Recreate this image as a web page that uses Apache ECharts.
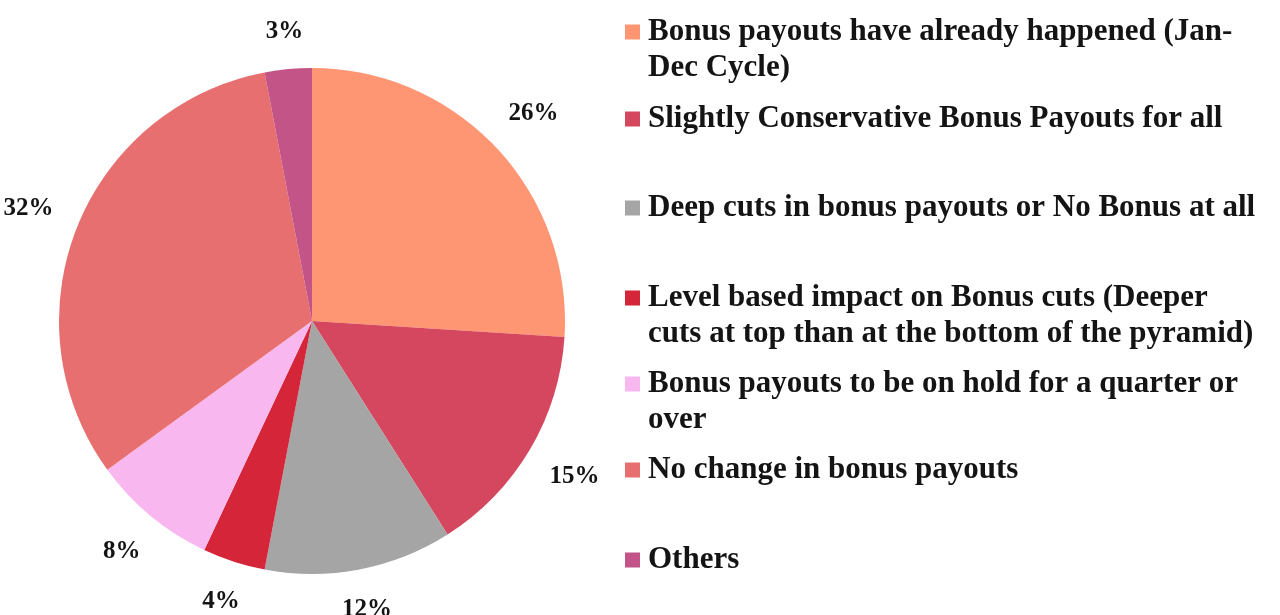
<!DOCTYPE html>
<html>
<head>
<meta charset="utf-8">
<script src="https://cdn.jsdelivr.net/npm/echarts@6/dist/echarts.min.js"></script>
<style>
  html, body { margin: 0; padding: 0; background: #ffffff; }
  #chart { width: 1280px; height: 615px; }
</style>
</head>
<body>
<div id="chart"></div>
<script>
// Survey responses on bonus payouts (share of respondents, %)
const categories = [
  'Bonus payouts have already happened (Jan-\nDec Cycle)',
  'Slightly Conservative Bonus Payouts for all',
  'Deep cuts in bonus payouts or No Bonus at all',
  'Level based impact on Bonus cuts (Deeper\ncuts at top than at the bottom of the pyramid)',
  'Bonus payouts to be on hold for a quarter or\nover',
  'No change in bonus payouts',
  'Others'
];
const shares = [26, 15, 12, 4, 8, 32, 3];
const sliceColors = ['#FE9673', '#D4475F', '#A5A5A5', '#D52539', '#F8B8EF', '#E86F6F', '#C25487'];

// Layout constants
const PIE_CX = 312, PIE_CY = 321, PIE_R = 253;
const LABEL_GAP = 24;
const LEGEND_LEFT = 625;
const LINE_H = 36;
const SWATCH = 15;
const legendRowCentres = [32, 119, 208, 298, 384, 470, 560];

const serif = '"Liberation Serif", "Times New Roman", serif';
const total = shares.reduce((a, b) => a + b, 0);

// Place each percentage just outside the rim, along the slice's middle angle
function placeLabel(p) {
  let before = 0;
  for (let i = 0; i < p.dataIndex; i++) before += shares[i];
  const mid = (before + shares[p.dataIndex] / 2) / total * Math.PI * 2;
  const dx = Math.sin(mid), dy = -Math.cos(mid);
  const hw = p.labelRect.width / 2, hh = p.labelRect.height / 2;
  const d = PIE_R + LABEL_GAP + hw * Math.abs(dx) + hh * Math.abs(dy);
  return { x: PIE_CX + dx * d, y: PIE_CY + dy * d, align: 'center', verticalAlign: 'middle' };
}

// One legend block per entry so each can sit on its own row;
// the icon path keeps the square beside the first text line.
const legends = categories.map((name, i) => {
  const lines = name.split('\n').length;
  const iconH = (lines - 1) * LINE_H + SWATCH;
  return {
    data: [name],
    orient: 'vertical',
    left: LEGEND_LEFT,
    top: legendRowCentres[i] - LINE_H / 2,
    padding: 0,
    itemWidth: SWATCH + 3,
    itemHeight: iconH,
    icon: 'path://M0,0h' + SWATCH + 'v' + SWATCH + 'h-' + SWATCH + 'z M' + (SWATCH + 3) + ',' + iconH,
    itemStyle: { borderWidth: 0 },
    selectedMode: false,
    textStyle: {
      fontFamily: serif,
      fontWeight: 'bold',
      fontSize: 31,
      lineHeight: LINE_H,
      color: '#141414'
    }
  };
});

const chart = echarts.init(document.getElementById('chart'), null, { renderer: 'canvas' });
chart.setOption({
  animation: false,
  backgroundColor: '#ffffff',
  legend: legends,
  series: [{
    type: 'pie',
    center: [PIE_CX, PIE_CY],
    radius: PIE_R,
    startAngle: 90,
    clockwise: true,
    avoidLabelOverlap: false,
    itemStyle: { borderWidth: 0 },
    label: {
      show: true,
      position: 'outside',
      formatter: '{c}%',
      fontFamily: serif,
      fontWeight: 'bold',
      fontSize: 25,
      color: '#141414'
    },
    labelLine: { show: false },
    labelLayout: placeLabel,
    emphasis: { disabled: true },
    data: categories.map((name, i) => ({
      name: name,
      value: shares[i],
      itemStyle: { color: sliceColors[i] }
    }))
  }]
});
</script>
</body>
</html>
